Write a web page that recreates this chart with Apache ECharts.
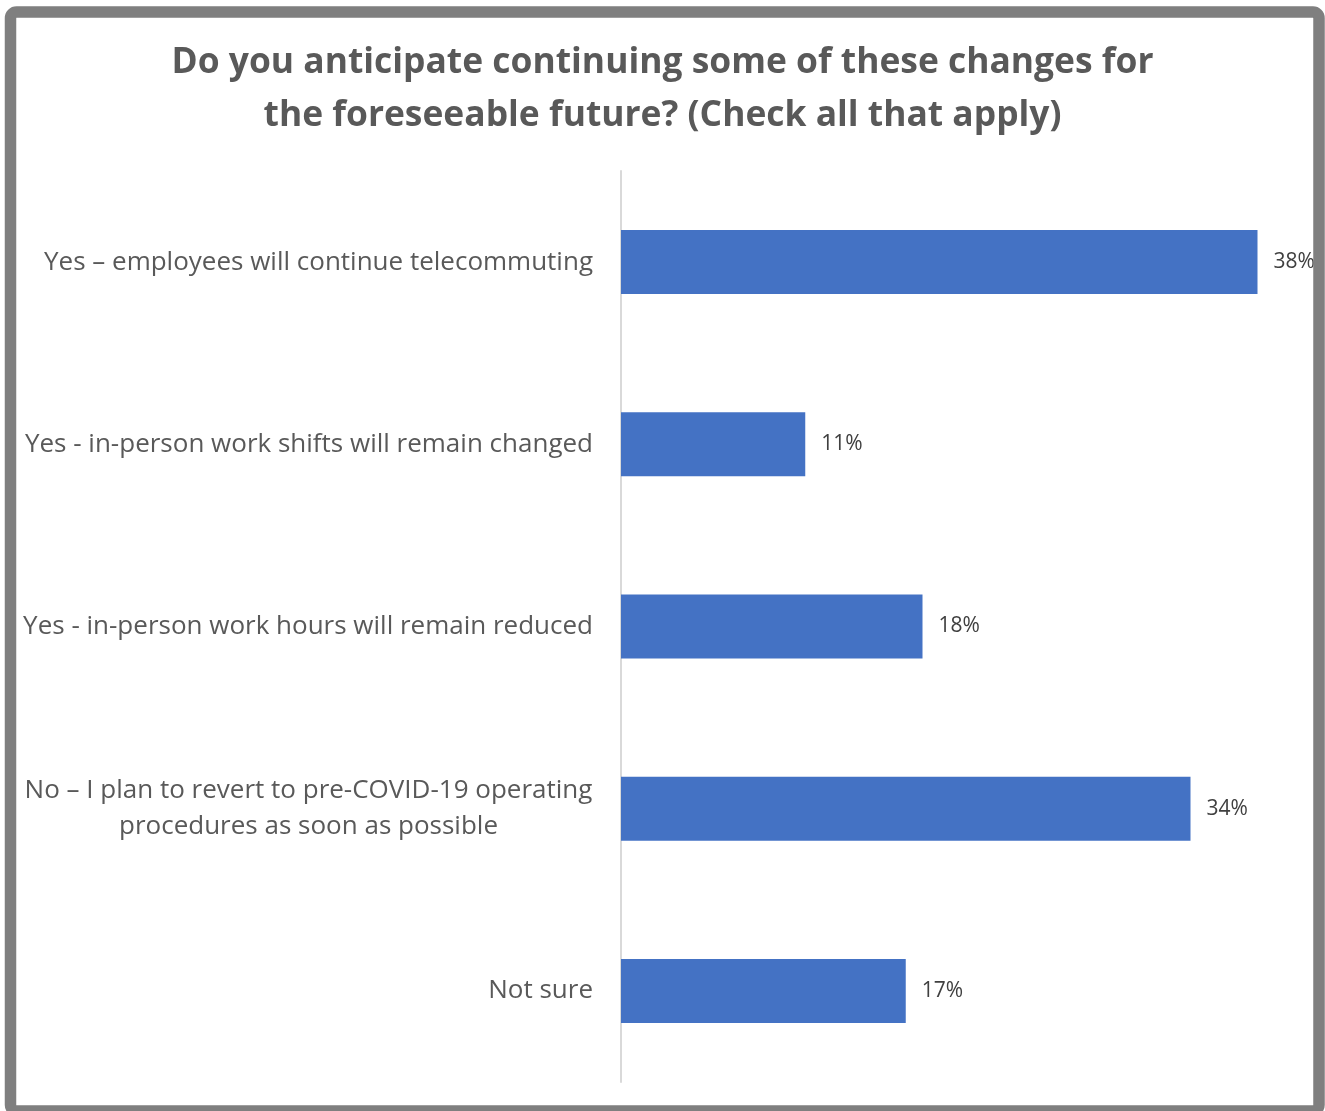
<!DOCTYPE html>
<html>
<head>
<meta charset="utf-8">
<script src="https://cdn.jsdelivr.net/npm/echarts@6/dist/echarts.min.js"></script>
<style>
  html, body { margin: 0; padding: 0; background: #ffffff; }
  #chart { width: 1325px; height: 1111px; }
</style>
</head>
<body>
<div id="chart"></div>
<script>
// Survey answers and share of respondents (%)
const categories = [
  'Yes \u2013 employees will continue telecommuting',
  'Yes - in-person work shifts will remain changed',
  'Yes - in-person work hours will remain reduced',
  'No \u2013 I plan to revert to pre-COVID-19 operating\nprocedures as soon as possible',
  'Not sure'
];
const values = [38, 11, 18, 34, 17];
const titleText = 'Do you anticipate continuing some of these changes for\nthe foreseeable future? (Check all that apply)';

const FONT = '"Open Sans"';
const LABEL_SIZE = 26;

const chart = echarts.init(document.getElementById('chart'), null, { renderer: 'canvas' });

// Width of the widest line among multi-line labels, so each line can be centred inside it
function widestLine(texts) {
  const ctx = document.createElement('canvas').getContext('2d');
  ctx.font = LABEL_SIZE + 'px ' + FONT;
  let w = 0;
  texts.forEach(t => {
    if (t.indexOf('\n') >= 0) {
      t.split('\n').forEach(line => { w = Math.max(w, ctx.measureText(line).width); });
    }
  });
  return Math.ceil(w) + 1;
}
const blockWidth = widestLine(categories);

// Multi-line labels are centred within a box that stays right-aligned to the axis
function labelFormatter(value) {
  if (value.indexOf('\n') >= 0) {
    return value.split('\n').map(line => '{c|' + line + '}').join('\n');
  }
  return value;
}

chart.setOption({
  backgroundColor: '#ffffff',
  animation: false,
  title: {
    text: titleText,
    left: 'center',
    top: 36,
    padding: 0,
    textStyle: {
      fontFamily: FONT,
      fontWeight: 'bold',
      fontSize: 35.4,
      lineHeight: 53,
      color: '#595959'
    }
  },
  graphic: [{
    type: 'rect',
    shape: { x: 10.5, y: 12, width: 1308.5, height: 1099, r: 6 },
    style: { fill: 'none', stroke: '#7f7f7f', lineWidth: 11.5 },
    silent: true,
    z: 100
  }],
  grid: { left: 621, top: 171, width: 670, height: 911 },
  xAxis: {
    type: 'value',
    min: 0,
    max: 40,
    show: false,
    splitLine: { show: false }
  },
  yAxis: {
    type: 'category',
    data: categories,
    inverse: true,
    axisLine: { show: true, lineStyle: { color: '#d9d9d9', width: 2 } },
    axisTick: { show: false },
    axisLabel: {
      margin: 28,
      fontFamily: FONT,
      fontSize: LABEL_SIZE,
      color: '#595959',
      lineHeight: 36,
      formatter: labelFormatter,
      rich: {
        c: {
          width: blockWidth,
          align: 'center',
          fontFamily: FONT,
          fontSize: LABEL_SIZE,
          color: '#595959',
          lineHeight: 36
        }
      }
    }
  },
  series: [{
    type: 'bar',
    data: values,
    barWidth: 64,
    itemStyle: { color: '#4472c4' },
    label: {
      show: true,
      position: 'right',
      distance: 16,
      formatter: '{c}%',
      fontFamily: FONT,
      fontSize: 21,
      color: '#404040'
    }
  }]
});
</script>
</body>
</html>
